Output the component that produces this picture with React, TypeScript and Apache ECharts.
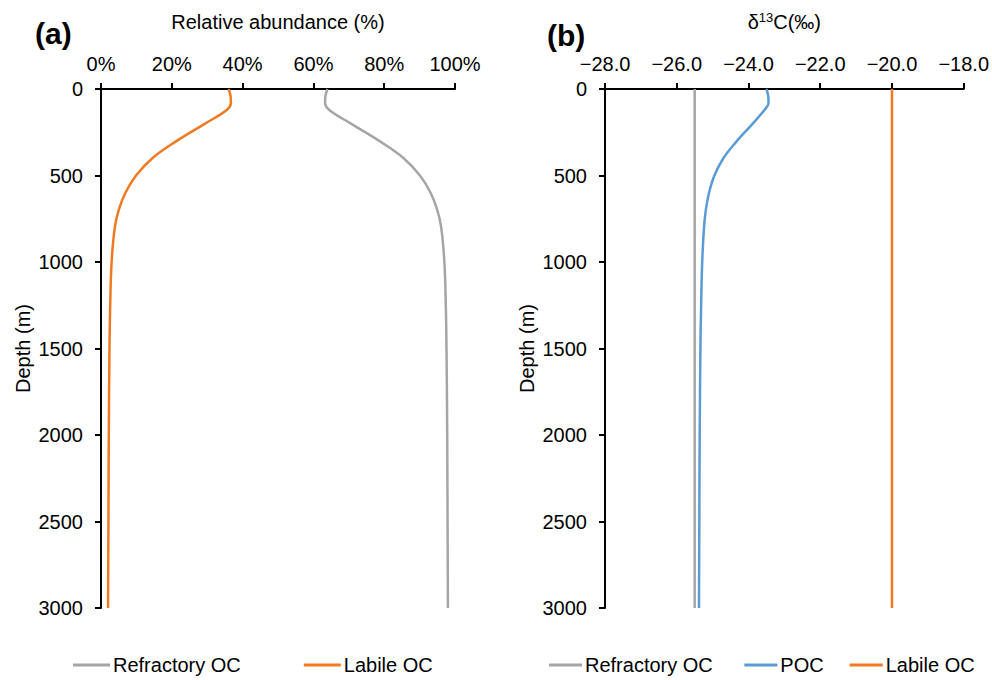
import React, { useEffect, useRef } from "react";
import * as echarts from "echarts";

// Depth levels (m)
const depths = [0, 40, 80, 120, 200, 300, 400, 500, 600, 700, 800, 1000, 1250, 1500, 2000, 2500, 3000];
// Panel (a) relative abundance (%)
const labileAbund = [36.0, 36.6, 36.7, 35.6, 29.4, 21.4, 14.5, 9.9, 6.9, 5.0, 3.9, 3.0, 2.6, 2.4, 2.2, 2.1, 2.0];
const refractoryAbund = [64.0, 63.4, 63.3, 64.4, 70.6, 78.6, 85.5, 90.1, 93.1, 95.0, 96.1, 97.0, 97.4, 97.6, 97.8, 97.9, 98.0];
// Panel (b) δ13C (‰)
const pocD13C = [-23.5, -23.45, -23.44, -23.55, -23.88, -24.32, -24.7, -24.95, -25.1, -25.19, -25.24, -25.29, -25.32, -25.34, -25.36, -25.37, -25.38];
const refractoryEndDepths = [0, 3000];
const refractoryD13C = [-25.5, -25.5];
const labileD13C = [-20.0, -20.0];

const abundTicks = [0, 20, 40, 60, 80, 100];
const d13cTicks = [-28, -26, -24, -22, -20, -18];
const depthTicks = [0, 500, 1000, 1500, 2000, 2500, 3000];

const FONT = "Liberation Sans, Arial, sans-serif";
const GRAY = "#A5A5A5";
const ORANGE = "#F07A22";
const BLUE = "#5B9BD5";

const pairs = (xs: number[], ys: number[]) => xs.map((x, i) => [x, ys[i]]);

export default function App() {
  const ref = useRef<HTMLDivElement>(null);
  useEffect(() => {
    if (!ref.current) return;
    const chart = echarts.init(ref.current, null, { renderer: "svg" });
    const axisLine = { show: true, lineStyle: { color: "#000", width: 2 } };
    const axisTick = { show: true, length: 6, lineStyle: { color: "#000", width: 2 } };
    const yAxisCommon = (gi: number) => ({
      type: "value",
      gridIndex: gi,
      inverse: true,
      min: depthTicks[0],
      max: depthTicks[depthTicks.length - 1],
      interval: 500,
      name: "Depth (m)",
      nameLocation: "middle",
      nameGap: 68,
      nameRotate: 90,
      nameTextStyle: { color: "#000", fontSize: 20, fontFamily: FONT },
      axisLine,
      axisTick,
      splitLine: { show: false },
      axisLabel: { color: "#000", fontSize: 20, fontFamily: FONT, margin: 18, formatter: (v: number) => String(v) },
    });
    const lineStyle = (c: string) => ({ color: c, width: 2.5 });
    chart.setOption({
      animation: false,
      backgroundColor: "#fff",
      grid: [
        { left: 101, top: 89, width: 354, height: 519 },
        { left: 605, top: 89, width: 362, height: 519 },
      ],
      xAxis: [
        {
          type: "value",
          gridIndex: 0,
          position: "top",
          min: abundTicks[0],
          max: abundTicks[abundTicks.length - 1],
          interval: 20,
          name: "Relative abundance (%)",
          nameLocation: "middle",
          nameGap: 57,
          nameTextStyle: { color: "#000", fontSize: 20, fontFamily: FONT },
          axisLine,
          axisTick,
          splitLine: { show: false },
          axisLabel: { color: "#000", fontSize: 20, fontFamily: FONT, margin: 15, formatter: "{value}%" },
        },
        {
          type: "value",
          gridIndex: 1,
          position: "top",
          min: d13cTicks[0],
          max: d13cTicks[d13cTicks.length - 1],
          interval: 2,
          name: "δ{sup|13}C(‰)",
          nameLocation: "middle",
          nameGap: 57,
          nameTextStyle: {
            color: "#000",
            fontSize: 20,
            fontFamily: FONT,
            rich: { sup: { fontSize: 13, verticalAlign: "top", padding: [0, 0, 8, 0], fontFamily: FONT, color: "#000" } },
          },
          axisLine,
          axisTick,
          splitLine: { show: false },
          axisLabel: {
            color: "#000",
            fontSize: 20,
            fontFamily: FONT,
            margin: 15,
            formatter: (v: number) => (v < 0 ? "\u2212" + Math.abs(v).toFixed(1) : v.toFixed(1)),
          },
        },
      ],
      yAxis: [yAxisCommon(0), yAxisCommon(1)],
      legend: [
        {
          left: 68,
          top: 650,
          itemWidth: 37,
          itemHeight: 3,
          itemGap: 63,
          icon: "rect",
          textStyle: { color: "#000", fontSize: 20, fontFamily: FONT, padding: [0, 0, 0, -2] },
          data: ["Refractory OC", "Labile OC"].map((n) => ({ name: n })),
        },
        {
          left: 544,
          top: 650,
          itemWidth: 33,
          itemHeight: 3,
          itemGap: 26,
          icon: "rect",
          textStyle: { color: "#000", fontSize: 20, fontFamily: FONT, padding: [0, 0, 0, -2] },
          data: ["Refractory OC ", "POC", "Labile OC "].map((n) => ({ name: n })),
        },
      ],
      series: [
        {
          name: "Refractory OC",
          type: "line",
          xAxisIndex: 0,
          yAxisIndex: 0,
          data: pairs(refractoryAbund, depths),
          smooth: 0.4,
          showSymbol: false,
          color: GRAY,
          lineStyle: lineStyle(GRAY),
        },
        {
          name: "Labile OC",
          type: "line",
          xAxisIndex: 0,
          yAxisIndex: 0,
          data: pairs(labileAbund, depths),
          smooth: 0.4,
          showSymbol: false,
          color: ORANGE,
          lineStyle: lineStyle(ORANGE),
        },
        {
          name: "Refractory OC ",
          type: "line",
          xAxisIndex: 1,
          yAxisIndex: 1,
          data: pairs(refractoryD13C, refractoryEndDepths),
          showSymbol: false,
          color: GRAY,
          lineStyle: lineStyle(GRAY),
        },
        {
          name: "POC",
          type: "line",
          xAxisIndex: 1,
          yAxisIndex: 1,
          data: pairs(pocD13C, depths),
          smooth: 0.4,
          showSymbol: false,
          color: BLUE,
          lineStyle: lineStyle(BLUE),
        },
        {
          name: "Labile OC ",
          type: "line",
          xAxisIndex: 1,
          yAxisIndex: 1,
          data: pairs(labileD13C, refractoryEndDepths),
          showSymbol: false,
          color: ORANGE,
          lineStyle: lineStyle(ORANGE),
        },
      ],
      graphic: [
        { type: "text", left: 35, top: 18, style: { text: "(a)", font: `bold 30px ${FONT}`, fill: "#000" } },
        { type: "text", left: 547, top: 20, style: { text: "(b)", font: `bold 30px ${FONT}`, fill: "#000" } },
      ],
    });
    return () => chart.dispose();
  }, []);
  return <div ref={ref} style={{ position: "fixed", left: 0, top: 0, width: 992, height: 680 }} />;
}
